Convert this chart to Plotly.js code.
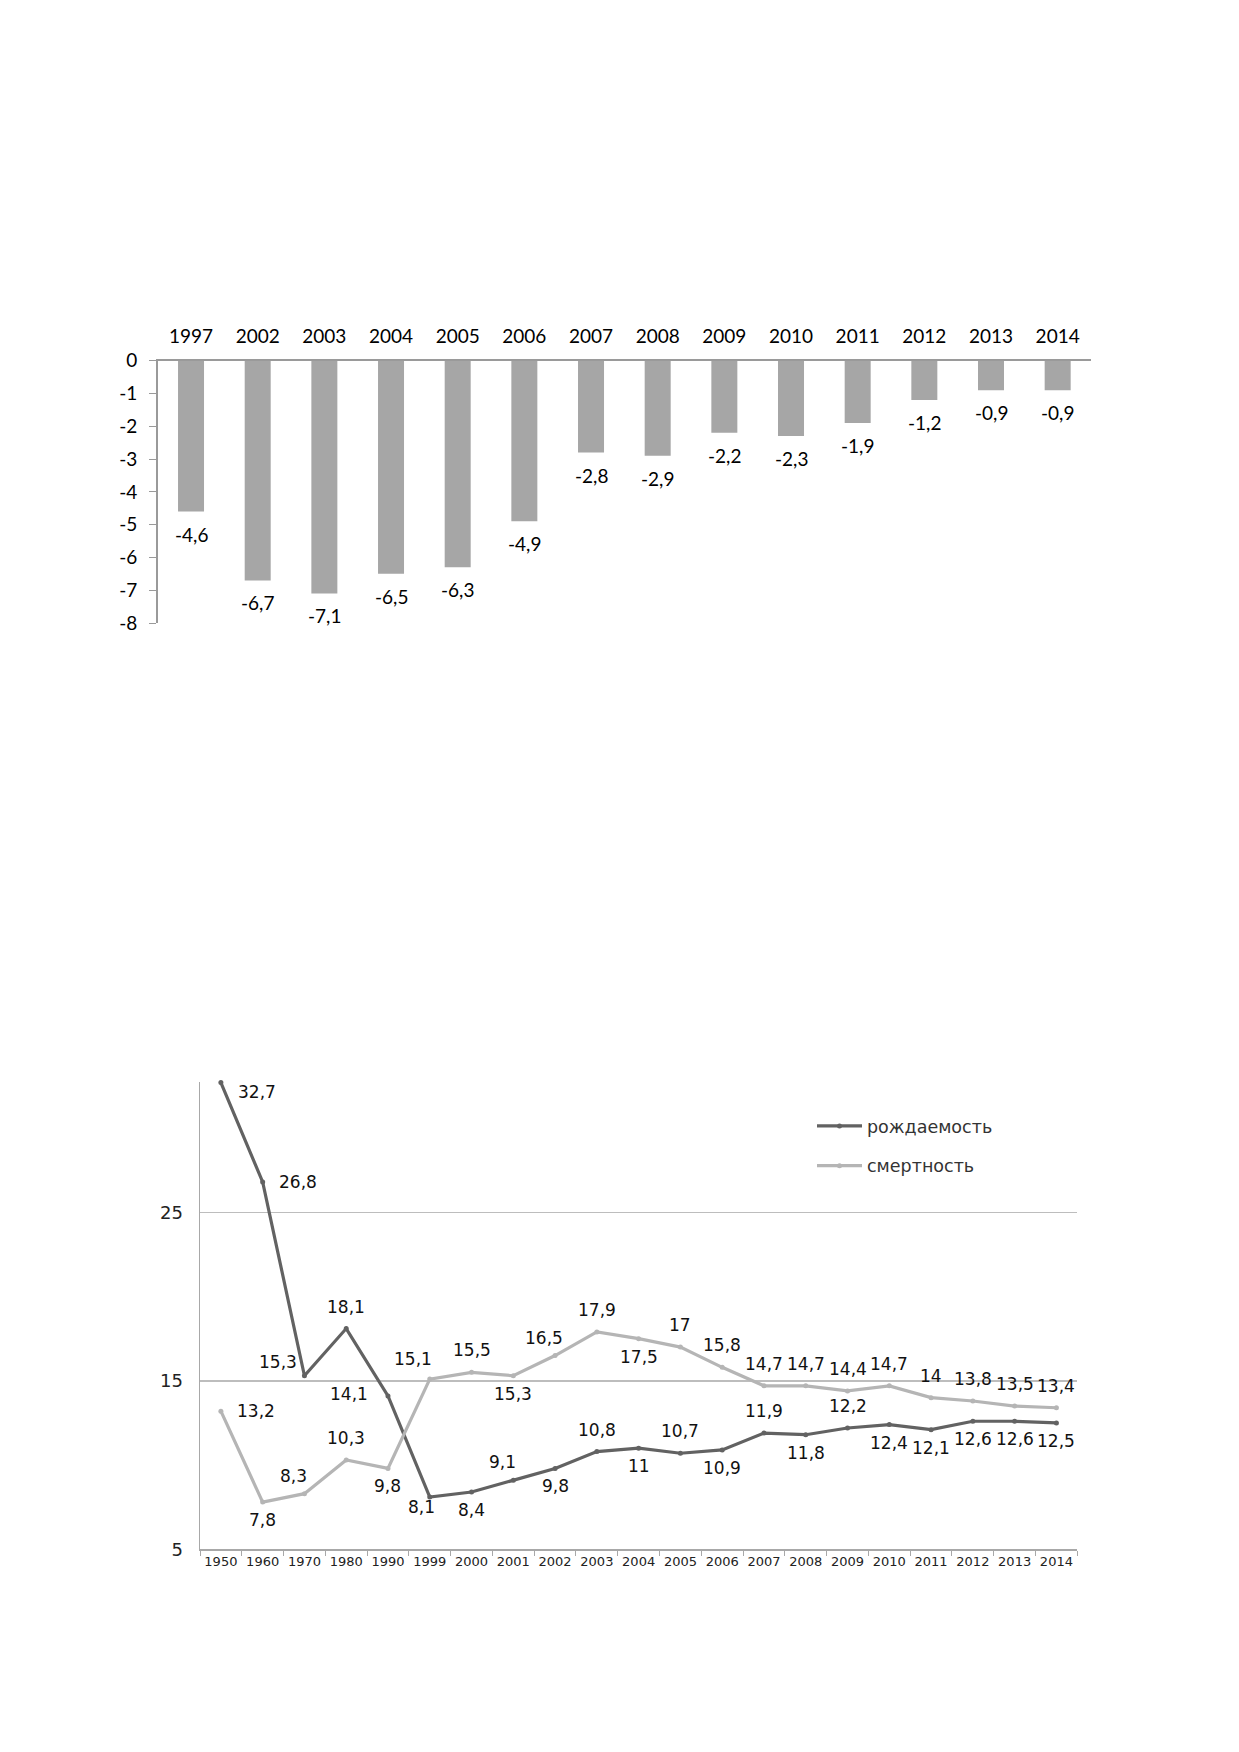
<!DOCTYPE html>
<html>
<head>
<meta charset="utf-8">
<script src="https://cdn.plot.ly/plotly-3.0.1.min.js"></script>
<style>html,body{margin:0;padding:0;background:#fff;}#chart{width:1239px;height:1752px;}</style>
</head>
<body>
<div id="chart"></div>
<script>
// ---- Data: natural growth (bar chart) ----
const barYears = ['1997','2002','2003','2004','2005','2006','2007','2008','2009','2010','2011','2012','2013','2014'];
const barValues = [-4.6,-6.7,-7.1,-6.5,-6.3,-4.9,-2.8,-2.9,-2.2,-2.3,-1.9,-1.2,-0.9,-0.9];
const barTickVals = [0,-1,-2,-3,-4,-5,-6,-7,-8];

// ---- Data: birth and death rates (line chart) ----
const lineYears = ['1950','1960','1970','1980','1990','1999','2000','2001','2002','2003','2004','2005','2006','2007','2008','2009','2010','2011','2012','2013','2014'];
const birthRate = [32.7,26.8,15.3,18.1,14.1,8.1,8.4,9.1,9.8,10.8,11,10.7,10.9,11.9,11.8,12.2,12.4,12.1,12.6,12.6,12.5];
const deathRate = [13.2,7.8,8.3,10.3,9.8,15.1,15.5,15.3,16.5,17.9,17.5,17,15.8,14.7,14.7,14.4,14.7,14,13.8,13.5,13.4];
const birthName = 'рождаемость';
const deathName = 'смертность';

// label placement keywords (style)
const birthPos = ['rightlow','right','topleft','top','left','bottomleft','bottom','topleft2','bottom','top','bottom','top','bottom','top','bottom','top','bottom','bottom','bottom','bottom','bottom'];
const deathPos = ['right','bottom','topleft2','top','bottom','topleft3','top','bottom','topleft2','top','bottom','top','top','top','top','top','top','top','top','top','top'];

// placement keyword -> anchor and pixel shift
const placement = {
  top:        {xanchor: 'center', yanchor: 'middle', xshift: 0,   yshift: 22},
  bottom:     {xanchor: 'center', yanchor: 'middle', xshift: 0,   yshift: -18},
  right:      {xanchor: 'left',   yanchor: 'middle', xshift: 14,  yshift: 0},
  rightlow:   {xanchor: 'left',   yanchor: 'middle', xshift: 15,  yshift: -9},
  left:       {xanchor: 'right',  yanchor: 'middle', xshift: -18, yshift: 2},
  topleft:    {xanchor: 'right',  yanchor: 'middle', xshift: -5,  yshift: 14},
  topleft2:   {xanchor: 'center', yanchor: 'middle', xshift: -11, yshift: 18},
  topleft3:   {xanchor: 'center', yanchor: 'middle', xshift: -17, yshift: 20},
  bottomleft: {xanchor: 'center', yanchor: 'middle', xshift: -8,  yshift: -10}
};

const fmt = v => String(v).replace('.', ',');

const W = 1239, H = 1752;
const px = x => x / W;
const py = y => 1 - y / H;

const barFont = 'Lato, "Open Sans", sans-serif';
const lineFont = '"DejaVu Sans", Verdana, sans-serif';

const traces = [
  {
    type: 'bar', x: barYears, y: barValues, xaxis: 'x', yaxis: 'y',
    marker: {color: '#a6a6a6'}, width: 0.39, showlegend: false, hoverinfo: 'skip'
  },
  {
    type: 'scatter', mode: 'lines+markers', name: birthName, legendgroup: 'a',
    x: lineYears, y: birthRate, xaxis: 'x2', yaxis: 'y2',
    line: {color: '#626262', width: 3.2},
    marker: {color: '#626262', size: 5}, cliponaxis: false
  },
  {
    type: 'scatter', mode: 'lines+markers', name: deathName, legendgroup: 'b',
    x: lineYears, y: deathRate, xaxis: 'x2', yaxis: 'y2',
    line: {color: '#b5b5b5', width: 3.2},
    marker: {color: '#b5b5b5', size: 5}, cliponaxis: false
  }
];

// bar value labels (category index on the bar x axis)
const annotations = barValues.map((v, i) => ({
  x: i, y: v, xref: 'x', yref: 'y',
  text: fmt(v), showarrow: false, yanchor: 'top', yshift: -9,
  font: {family: barFont, size: 19, color: '#000'}
}));

// line value labels
function lineLabels(values, pos) {
  return values.map((v, i) => Object.assign({
    x: i, y: v, xref: 'x2', yref: 'y2', text: fmt(v), showarrow: false,
    font: {family: lineFont, size: 17, color: '#111'}
  }, placement[pos[i]]));
}
const allAnnotations = annotations.concat(lineLabels(birthRate, birthPos), lineLabels(deathRate, deathPos));

const layout = {
  width: W, height: H,
  margin: {l: 0, r: 0, t: 0, b: 0},
  paper_bgcolor: '#fff', plot_bgcolor: 'rgba(0,0,0,0)',
  xaxis: {
    domain: [px(157.7), px(1091)], anchor: 'y', side: 'top', type: 'category',
    range: [-0.5, barYears.length - 0.5],
    showline: true, linecolor: '#9a9a9a', linewidth: 1.5, ticks: '', showgrid: false,
    ticklabelstandoff: 9,
    tickfont: {family: barFont, size: 19, color: '#000'}, fixedrange: true
  },
  yaxis: {
    domain: [py(623), py(360.7)], anchor: 'x', range: [-8, 0],
    tickvals: barTickVals, ticktext: barTickVals.map(v => String(v)),
    ticks: 'outside', ticklen: 7, tickcolor: '#9a9a9a', ticklabelstandoff: 8,
    showline: true, linecolor: '#9a9a9a', linewidth: 1.5, showgrid: false, zeroline: false,
    tickfont: {family: barFont, size: 19, color: '#000'}, fixedrange: true
  },
  xaxis2: {
    domain: [px(200), px(1077.3)], anchor: 'y2', type: 'category',
    range: [-0.5, lineYears.length - 0.5],
    showline: true, linecolor: '#a8a8a8', linewidth: 1.5,
    ticks: 'outside', tickson: 'boundaries', ticklen: 5, tickcolor: '#a8a8a8',
    showgrid: false, tickangle: 0,
    tickfont: {family: lineFont, size: 13, color: '#222'}, fixedrange: true
  },
  yaxis2: {
    domain: [py(1549.3), py(1081.7)], anchor: 'x2', range: [5, 32.75],
    tick0: 5, dtick: 10, showgrid: true, gridcolor: '#bdbdbd', gridwidth: 1.5,
    showline: true, linecolor: '#a8a8a8', linewidth: 1.5, ticks: '', zeroline: false,
    ticklabelstandoff: 12,
    tickfont: {family: lineFont, size: 18, color: '#222'}, fixedrange: true
  },
  showlegend: true,
  legend: {
    x: px(812), y: py(1108), xanchor: 'left', yanchor: 'top',
    bgcolor: 'rgba(0,0,0,0)', tracegroupgap: 14, itemwidth: 45,
    font: {family: lineFont, size: 17.5, color: '#333'}
  },
  annotations: allAnnotations
};

Plotly.newPlot('chart', traces, layout, {displayModeBar: false, staticPlot: true});
</script>
</body>
</html>
